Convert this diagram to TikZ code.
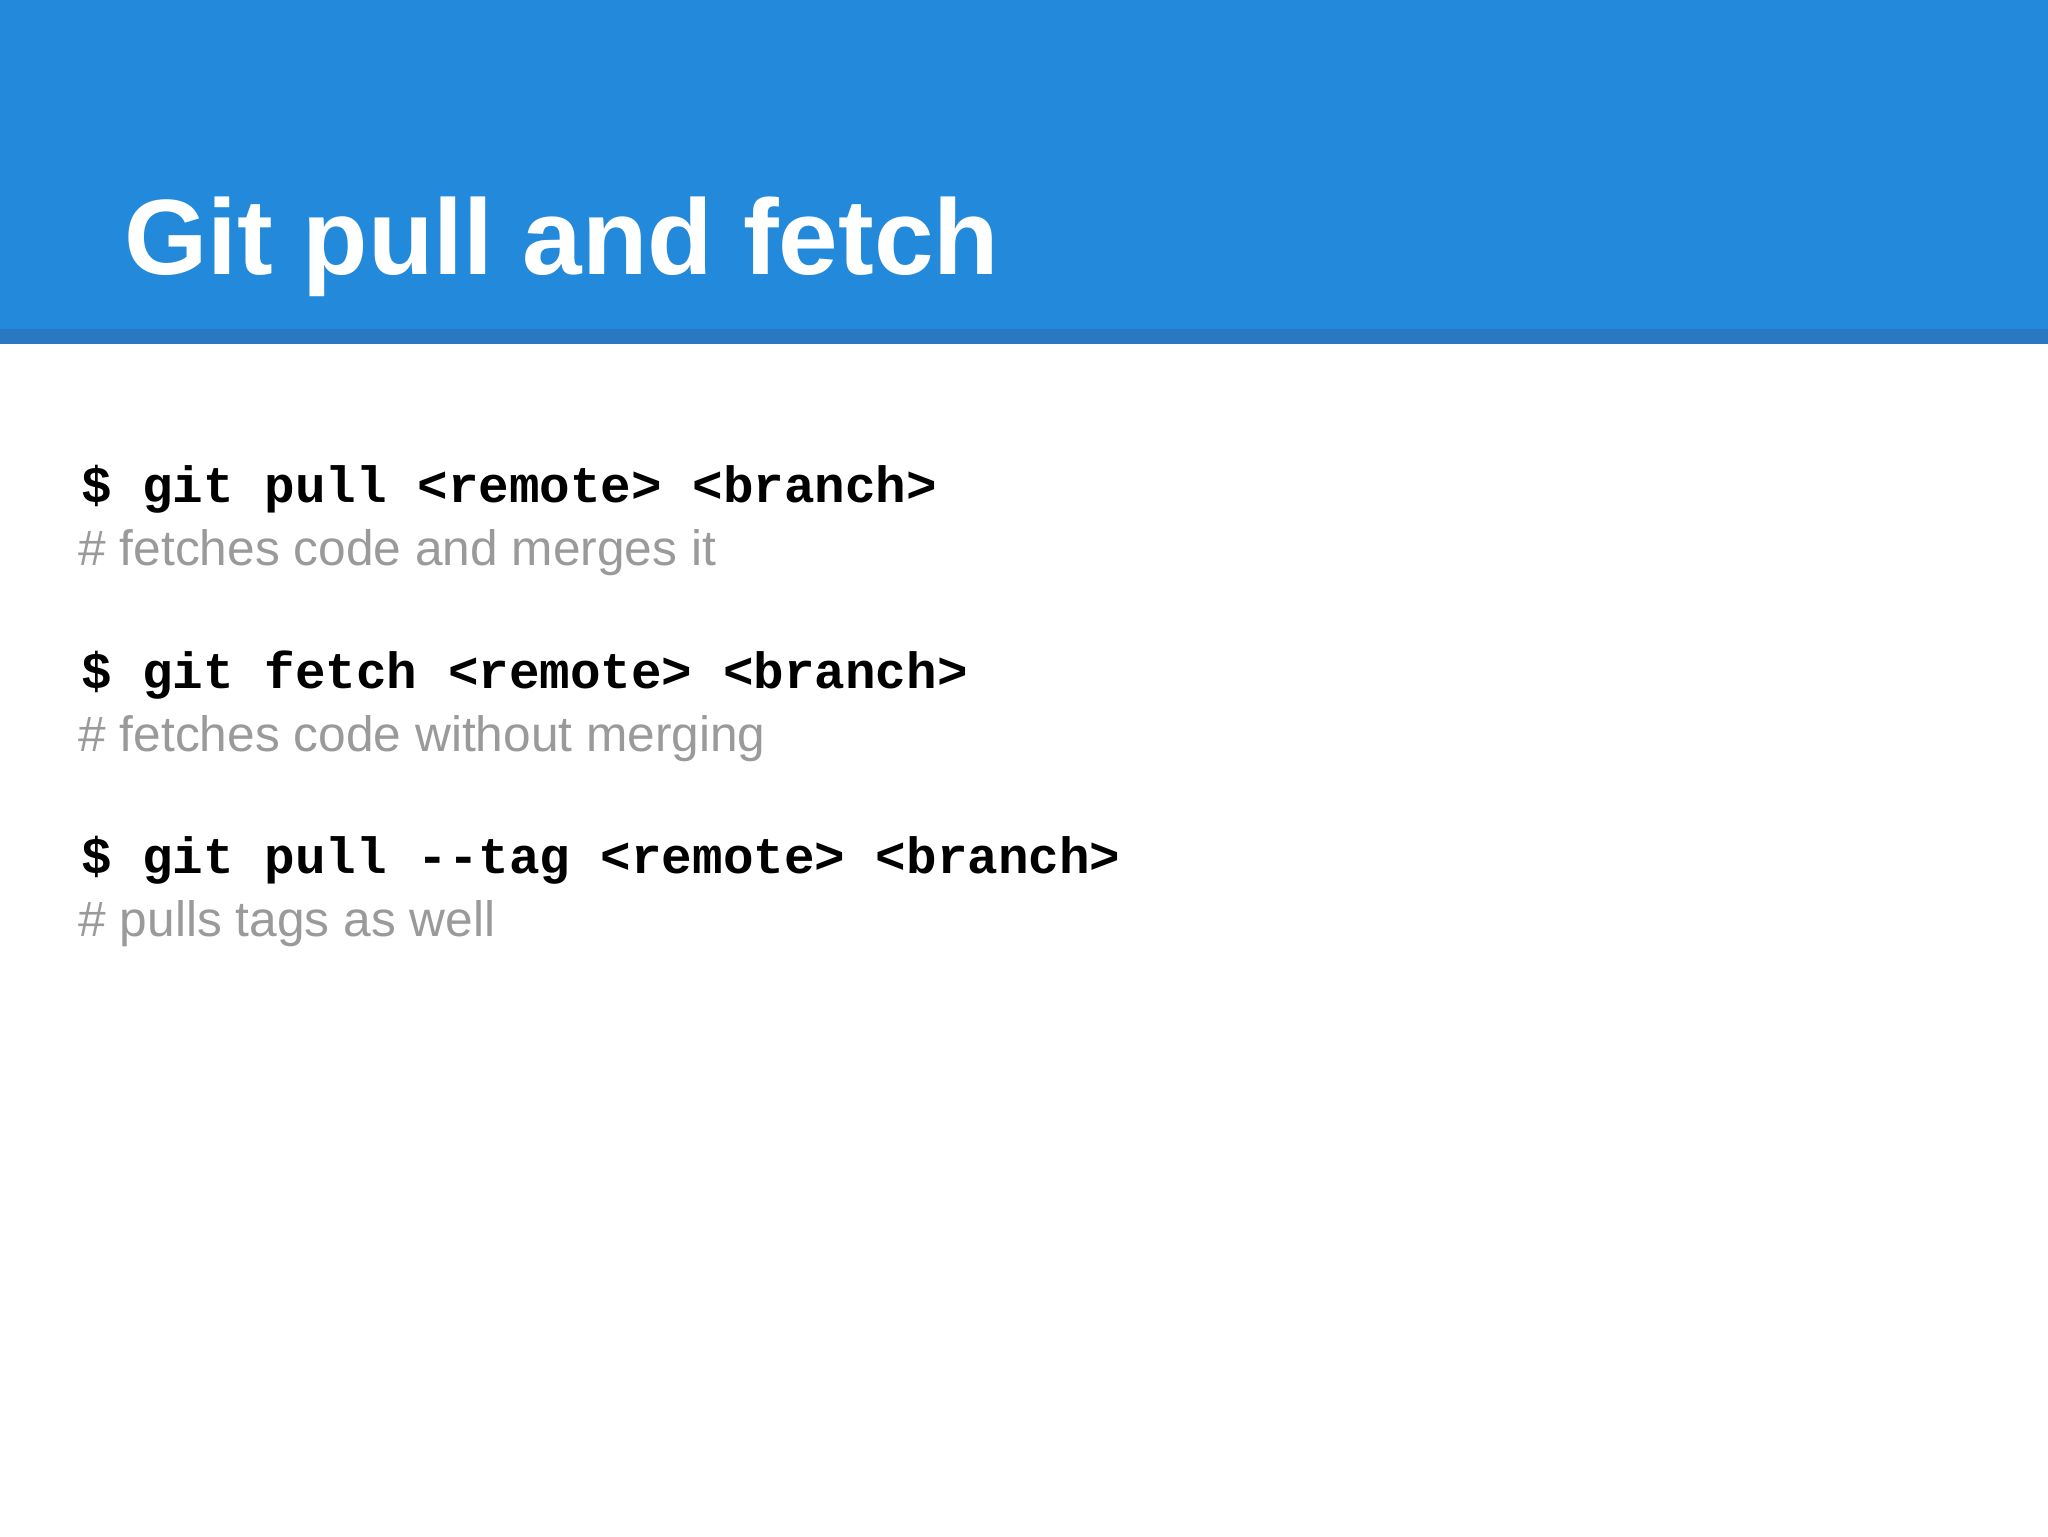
\documentclass[tikz,border=0pt]{standalone}
\usepackage{fontspec}
\setmainfont{Liberation Sans}
\setmonofont{Liberation Mono}
\definecolor{hdr}{HTML}{2389DB}
\definecolor{hdrline}{HTML}{2A78C2}
\definecolor{cmt}{HTML}{9A9A9A}
\begin{document}
\begin{tikzpicture}[x=1pt,y=-1pt,
  code/.style={anchor=base west,inner sep=0,font=\fontsize{39}{39}\selectfont\ttfamily\bfseries,text=black},
  comment/.style={anchor=base west,inner sep=0,font=\fontsize{38}{38}\selectfont,text=cmt}]
\useasboundingbox (0,0) rectangle (1568,1176);
\fill[white] (0,0) rectangle (1568,1176);
\fill[hdr] (0,0) rectangle (1568,253);
\fill[hdrline] (0,252) rectangle (1568,263);
\node[anchor=base west,inner sep=0,text=white,font=\fontsize{82}{82}\selectfont\bfseries] (title) at (95,210) {Git pull and fetch};
\node[code] (c1) at (62,385) {\$ git pull <remote> <branch>};
\node[comment] (m1) at (60,433) {\# fetches code and merges it};
\node[code] (c2) at (62,527) {\$ git fetch <remote> <branch>};
\node[comment] (m2) at (60,575) {\# fetches code without merging};
\node[code] (c3) at (62,669) {\$ git pull -{}-tag <remote> <branch>};
\node[comment] (m3) at (60,717) {\# pulls tags as well};
\end{tikzpicture}
\end{document}
